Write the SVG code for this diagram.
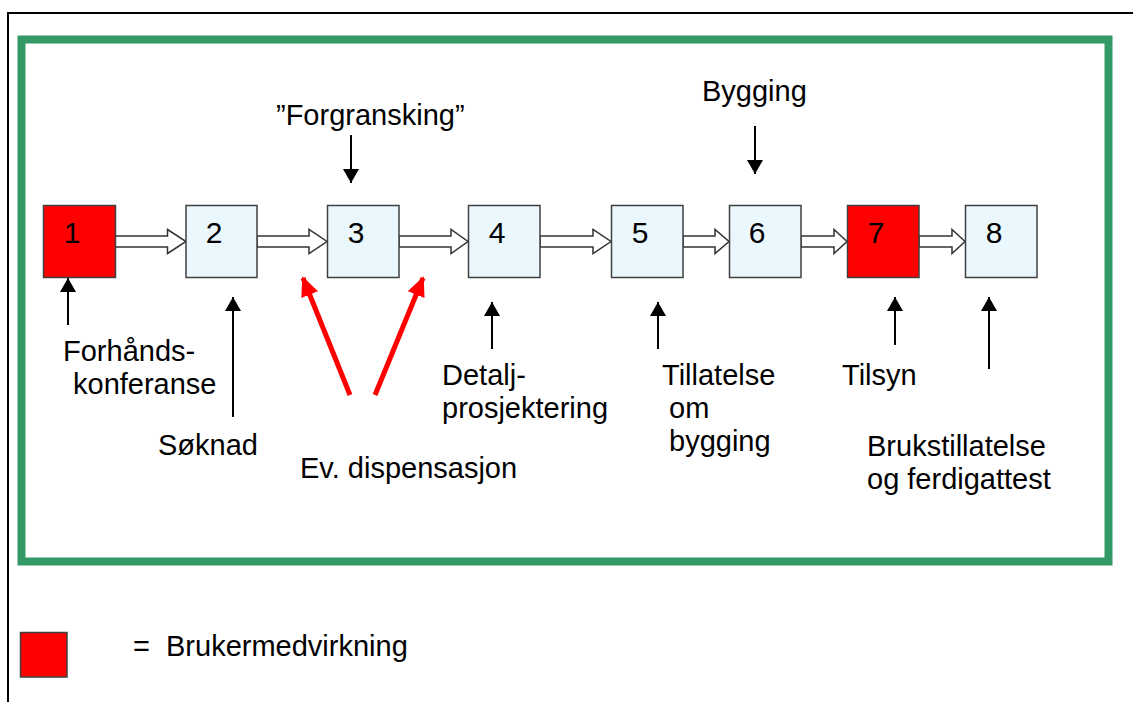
<svg xmlns="http://www.w3.org/2000/svg" width="1133" height="702" viewBox="0 0 1133 702">
<style>
text{font-family:"Liberation Sans",Arial,sans-serif;font-size:29px;fill:#000}
.num{text-anchor:middle;font-size:30px}
.box{stroke:#404040;stroke-width:1.5}
.blue{fill:#EAF7FC}
.red{fill:#FF0000}
.blk{fill:#fff;stroke:#333;stroke-width:1.5;stroke-linejoin:miter}
.thin{stroke:#000;stroke-width:2;fill:none}
.redl{stroke:#FF0000;stroke-width:5;fill:none}
</style>
<defs>
<marker id="ah" markerWidth="14" markerHeight="16" refX="14" refY="8" orient="auto" markerUnits="userSpaceOnUse" viewBox="0 0 14 16">
<path d="M0,0 L14,8 L0,16 Z" fill="#000"/>
</marker>
<marker id="ahr" markerWidth="20" markerHeight="18" refX="18" refY="9" orient="auto" markerUnits="userSpaceOnUse" viewBox="0 0 20 18">
<path d="M0,0 L20,9 L0,18 Z" fill="#FF0000"/>
</marker>
</defs>
<rect width="1133" height="702" fill="#fff"/>
<g id="page-frame">
<line x1="8" y1="13" x2="1133" y2="13" stroke="#000" stroke-width="2"/>
<line x1="8" y1="12" x2="8" y2="702" stroke="#000" stroke-width="2"/>
</g>
<rect id="frame" x="21.5" y="39.5" width="1087" height="522" fill="none" stroke="#339966" stroke-width="8"/>
<g id="connectors">
<path class="blk" d="M115,236 H167.5 V229.5 L186,241.5 L167.5,253.5 V247 H115 Z"/>
<path class="blk" d="M257,236 H309 V229.5 L327,241.5 L309,253.5 V247 H257 Z"/>
<path class="blk" d="M399,236 H451 V229.5 L468,241.5 L451,253.5 V247 H399 Z"/>
<path class="blk" d="M540,236 H593 V229.5 L611,241.5 L593,253.5 V247 H540 Z"/>
<path class="blk" d="M683,236 H715 V229.5 L729,241.5 L715,253.5 V247 H683 Z"/>
<path class="blk" d="M801,236 H834 V229.5 L847,241.5 L834,253.5 V247 H801 Z"/>
<path class="blk" d="M919,236 H952 V229.5 L965,241.5 L952,253.5 V247 H919 Z"/>
<line class="thin" x1="351" y1="135" x2="351" y2="183" marker-end="url(#ah)"/>
<line class="thin" x1="755" y1="126" x2="755" y2="174" marker-end="url(#ah)"/>
<line class="thin" x1="68" y1="325" x2="68" y2="278" marker-end="url(#ah)"/>
<line class="thin" x1="233" y1="417" x2="233" y2="297" marker-end="url(#ah)"/>
<line class="thin" x1="492" y1="349" x2="492" y2="302" marker-end="url(#ah)"/>
<line class="thin" x1="658" y1="349" x2="658" y2="302" marker-end="url(#ah)"/>
<line class="thin" x1="895" y1="345" x2="895" y2="297" marker-end="url(#ah)"/>
<line class="thin" x1="989" y1="369" x2="989" y2="297" marker-end="url(#ah)"/>
<line class="redl" x1="350" y1="395" x2="303" y2="278" marker-end="url(#ahr)"/>
<line class="redl" x1="375" y1="395" x2="423" y2="278" marker-end="url(#ahr)"/>
</g>
<g id="n1"><rect class="box red" x="43.5" y="205.5" width="72" height="72"/><text class="num" x="72" y="243">1</text></g>
<g id="n2"><rect class="box blue" x="186" y="205.5" width="71" height="72"/><text class="num" x="214" y="243">2</text></g>
<g id="n3"><rect class="box blue" x="327.5" y="205.5" width="71.5" height="72"/><text class="num" x="356" y="243">3</text></g>
<g id="n4"><rect class="box blue" x="468.5" y="205.5" width="71.5" height="72"/><text class="num" x="497" y="243">4</text></g>
<g id="n5"><rect class="box blue" x="611.5" y="205.5" width="71.5" height="72"/><text class="num" x="640" y="243">5</text></g>
<g id="n6"><rect class="box blue" x="729.5" y="205.5" width="71.5" height="72"/><text class="num" x="757" y="243">6</text></g>
<g id="n7"><rect class="box red" x="847.5" y="205.5" width="71.5" height="72"/><text class="num" x="876" y="243">7</text></g>
<g id="n8"><rect class="box blue" x="965.5" y="205.5" width="71.5" height="72"/><text class="num" x="994" y="243">8</text></g>
<g id="labels">
<text x="276" y="125">”Forgransking”</text>
<text x="702" y="101">Bygging</text>
<text x="63" y="361">Forhånds-</text>
<text x="73" y="394">konferanse</text>
<text x="158" y="455">Søknad</text>
<text x="300" y="478">Ev. dispensasjon</text>
<text x="442" y="385">Detalj-</text>
<text x="442" y="418">prosjektering</text>
<text x="662" y="385">Tillatelse</text>
<text x="669" y="418">om</text>
<text x="669" y="451">bygging</text>
<text x="842" y="385">Tilsyn</text>
<text x="867" y="456">Brukstillatelse</text>
<text x="867" y="489">og ferdigattest</text>
</g>
<g id="legend">
<rect class="box red" x="20.5" y="632.5" width="46.5" height="44.5"/>
<text x="133" y="656">=</text>
<text x="166" y="656">Brukermedvirkning</text>
</g>
</svg>
